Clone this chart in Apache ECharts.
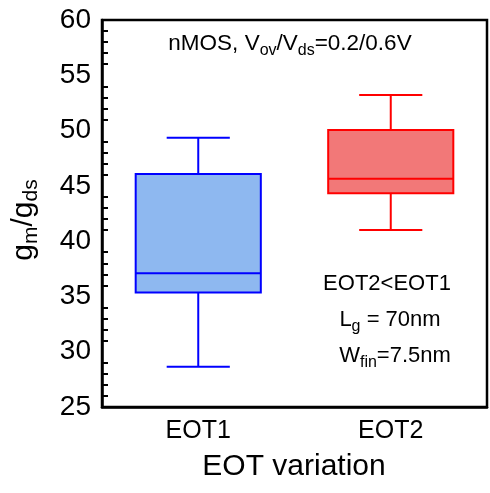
<!DOCTYPE html>
<html><head><meta charset="utf-8">
<script src="https://cdn.jsdelivr.net/npm/echarts@6/dist/echarts.min.js"></script>
<style>html,body{margin:0;padding:0;background:#fff}#chart{width:490px;height:493px}</style>
</head><body><div id="chart"></div>
<script>
// Categories on the x axis
const categories = ['EOT1', 'EOT2'];
// Box statistics per category: [lower whisker, Q1, median, Q3, upper whisker]
const eot1Stats = [28.65, 35.35, 37.1, 46.08, 49.36];
const eot2Stats = [41.0, 44.33, 45.65, 50.05, 53.22];
// Y axis range and major step
const yMin = 25, yMax = 60, yStep = 5;

const fills = ['#8EB8F0', '#F27878'];
const strokes = ['#0000FF', '#FF0000'];
const FONT = "'Liberation Sans', Arial, Helvetica, sans-serif";

const boxData = [[0].concat(eot1Stats), [1].concat(eot2Stats)];

const chart = echarts.init(document.getElementById('chart'), null, {renderer: 'canvas'});

// Box, whiskers and caps for one category, placed through the axis scales
function renderBox(params, api) {
  const i = api.value(0);
  const cx = api.coord([i, yMin])[0];
  const y = k => api.coord([i, api.value(k)])[1];
  const lo = y(1), q1 = y(2), med = y(3), q3 = y(4), hi = y(5);
  const catW = api.size([1, 0])[0];
  const halfBox = catW * 0.325, halfCap = catW * 0.164;
  const stroke = strokes[i], fill = fills[i];
  const ls = {stroke: stroke, lineWidth: 2};
  return {
    type: 'group',
    children: [
      {type: 'line', shape: {x1: cx, y1: lo, x2: cx, y2: q1}, style: ls},
      {type: 'line', shape: {x1: cx, y1: q3, x2: cx, y2: hi}, style: ls},
      {type: 'line', shape: {x1: cx - halfCap, y1: lo, x2: cx + halfCap, y2: lo}, style: ls},
      {type: 'line', shape: {x1: cx - halfCap, y1: hi, x2: cx + halfCap, y2: hi}, style: ls},
      {type: 'rect', shape: {x: cx - halfBox, y: q3, width: 2 * halfBox, height: q1 - q3},
        style: {fill: fill, stroke: stroke, lineWidth: 2}},
      {type: 'line', shape: {x1: cx - halfBox, y1: med, x2: cx + halfBox, y2: med}, style: ls}
    ]
  };
}

// Rich-text styles: main run and lowered subscript run
function richStyles(main, sub, drop) {
  return {
    m: {fontSize: main, fontFamily: FONT, fill: '#000'},
    s: {fontSize: sub, fontFamily: FONT, fill: '#000', padding: [drop, 0, 0, 0]}
  };
}

chart.setOption({
  animation: false,
  backgroundColor: '#fff',
  grid: {left: 102, right: 3, top: 20, bottom: 86, show: true, borderColor: '#000', borderWidth: 2.5, containLabel: false},
  xAxis: {
    type: 'category',
    data: categories,
    boundaryGap: true,
    axisLine: {lineStyle: {color: '#000', width: 2.5}},
    axisTick: {inside: true, alignWithLabel: true, length: 10, lineStyle: {color: '#000', width: 2}},
    axisLabel: {color: '#000', fontSize: 25, fontFamily: FONT, margin: 12},
    splitLine: {show: false}
  },
  yAxis: {
    type: 'value',
    min: yMin, max: yMax, interval: yStep,
    axisLine: {show: true, lineStyle: {color: '#000', width: 2.5}},
    axisTick: {inside: true, length: 11, lineStyle: {color: '#000', width: 2}},
    minorTick: {show: true, splitNumber: 5, length: 6, lineStyle: {color: '#000', width: 2}},
    axisLabel: {color: '#000', fontSize: 28, fontFamily: FONT, margin: 11},
    splitLine: {show: false}
  },
  series: [{
    type: 'custom',
    renderItem: renderBox,
    encode: {x: 0, y: [1, 2, 3, 4, 5]},
    data: boxData,
    z: 3
  }],
  graphic: [
    {
      type: 'text', x: 294, y: 452,
      style: {text: 'EOT variation', align: 'center', verticalAlign: 'top', fontSize: 30, fontFamily: FONT, fill: '#000'}
    },
    {
      type: 'text', x: 24, y: 220, rotation: Math.PI / 2,
      style: {
        text: '{m|g}{s|m}{m|/g}{s|ds}', align: 'center', verticalAlign: 'middle',
        rich: richStyles(30, 21, 15)
      }
    },
    {
      type: 'text', x: 290, y: 44,
      style: {
        text: '{m|nMOS, V}{s|ov}{m|/V}{s|ds}{m|=0.2/0.6V}', align: 'center', verticalAlign: 'middle',
        rich: richStyles(22.5, 16, 13)
      }
    },
    {
      type: 'text', x: 387, y: 284,
      style: {text: 'EOT2<EOT1', align: 'center', verticalAlign: 'middle', fontSize: 22, fontFamily: FONT, fill: '#000'}
    },
    {
      type: 'text', x: 390, y: 320,
      style: {
        text: '{m|L}{s|g}{m| = 70nm}', align: 'center', verticalAlign: 'middle',
        rich: richStyles(22, 16, 13)
      }
    },
    {
      type: 'text', x: 395, y: 356,
      style: {
        text: '{m|W}{s|fin}{m|=7.5nm}', align: 'center', verticalAlign: 'middle',
        rich: richStyles(22, 16, 13)
      }
    }
  ]
});
</script></body></html>
